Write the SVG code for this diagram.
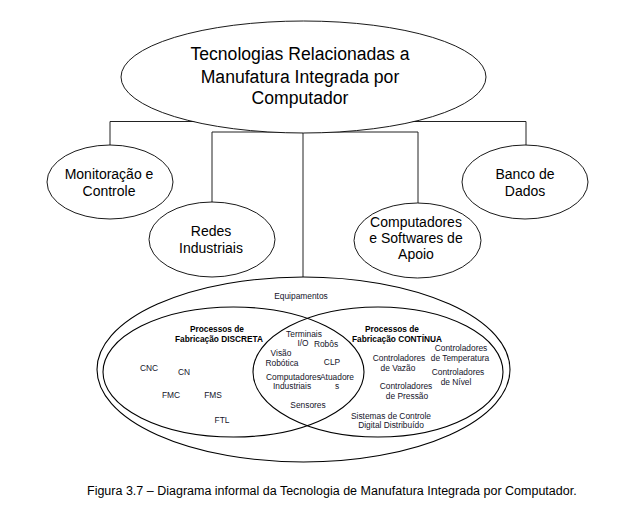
<svg xmlns="http://www.w3.org/2000/svg" width="620" height="519" viewBox="0 0 620 519">
<style>
.e{fill:#fff;stroke:#000;stroke-width:0.9}
.v{fill:none;stroke:#000;stroke-width:1.1}
.c{fill:none;stroke:#222;stroke-width:1}
text{font-family:"Liberation Sans",Arial,sans-serif;fill:#14142a;text-anchor:middle}
.big{font-size:17.6px;fill:#000}
.mid{font-size:14px;fill:#000}
.sm{font-size:8.4px}
.st{text-anchor:start}
.b{font-size:8.3px;font-weight:bold;fill:#000}
.cap{font-size:12.5px;fill:#000;text-anchor:start}
</style>
<rect width="620" height="519" fill="#fff"/>
<g id="connectors" class="c">
<polyline points="110,145 110,121.5 526,121.5 526,145"/>
<polyline points="212,202 212,132 418,132 418,203"/>
<line x1="303" y1="132" x2="303" y2="277"/>
</g>
<g id="top">
<ellipse class="e" cx="303.5" cy="77" rx="182.5" ry="56"/>
<text class="big" x="300" y="60">Tecnologias Relacionadas a</text>
<text class="big" x="300" y="83">Manufatura Integrada por</text>
<text class="big" x="300" y="104">Computador</text>
</g>
<g id="monitoracao">
<ellipse class="e" cx="110" cy="182" rx="63" ry="37"/>
<text class="mid" x="109" y="179">Monitoração e</text>
<text class="mid" x="109" y="196">Controle</text>
</g>
<g id="redes">
<ellipse class="e" cx="212" cy="239.5" rx="63" ry="37.5"/>
<text class="mid" x="211" y="236">Redes</text>
<text class="mid" x="211" y="253">Industriais</text>
</g>
<g id="computadores">
<ellipse class="e" cx="417.5" cy="240.5" rx="63.5" ry="37.5"/>
<text class="mid" x="416" y="227">Computadores</text>
<text class="mid" x="416" y="243">e Softwares de</text>
<text class="mid" x="416" y="259">Apoio</text>
</g>
<g id="banco">
<ellipse class="e" cx="525" cy="182" rx="63" ry="37"/>
<text class="mid" x="525" y="179">Banco de</text>
<text class="mid" x="525" y="196">Dados</text>
</g>
<g id="equipamentos">
<ellipse class="v" cx="303.5" cy="369.5" rx="206.5" ry="92.5"/>
<text class="sm" x="301" y="299">Equipamentos</text>
</g>
<g id="discreta">
<ellipse class="v" cx="233.5" cy="372" rx="130.5" ry="65"/>
<text class="b" x="217" y="332">Processos de</text>
<text class="b" x="219" y="342">Fabricação DISCRETA</text>
<text class="sm" x="149" y="371">CNC</text>
<text class="sm" x="184" y="375">CN</text>
<text class="sm" x="171" y="398">FMC</text>
<text class="sm" x="213" y="398">FMS</text>
<text class="sm" x="222" y="423">FTL</text>
</g>
<g id="continua">
<ellipse class="v" cx="378" cy="372" rx="125" ry="65"/>
<text class="b" x="392" y="332">Processos de</text>
<text class="b" x="397" y="342">Fabricação CONTÍNUA</text>
<text class="sm" x="399" y="361">Controladores</text>
<text class="sm" x="398" y="371">de Vazão</text>
<text class="sm" x="461" y="351">Controladores</text>
<text class="sm" x="460" y="361">de Temperatura</text>
<text class="sm" x="458" y="375">Controladores</text>
<text class="sm" x="456" y="385">de Nível</text>
<text class="sm" x="406" y="389">Controladores</text>
<text class="sm" x="407" y="399">de Pressão</text>
<text class="sm" x="391" y="419">Sistemas de Controle</text>
<text class="sm" x="391" y="428">Digital Distribuído</text>
</g>
<g id="comum">
<text class="sm" x="304" y="337">Terminais</text>
<text class="sm" x="303" y="346">I/O</text>
<text class="sm" x="326" y="347">Robôs</text>
<text class="sm" x="281" y="356">Visão</text>
<text class="sm" x="282" y="366">Robótica</text>
<text class="sm" x="332" y="365">CLP</text>
<text class="sm st" x="266" y="380">Computadores</text>
<text class="sm st" x="320" y="380">Atuadore</text>
<text class="sm" x="292" y="389">Industriais</text>
<text class="sm" x="337" y="389">s</text>
<text class="sm" x="308" y="408">Sensores</text>
</g>
<text class="cap" x="87" y="495">Figura 3.7 – Diagrama informal da Tecnologia de Manufatura Integrada por Computador.</text>
</svg>
